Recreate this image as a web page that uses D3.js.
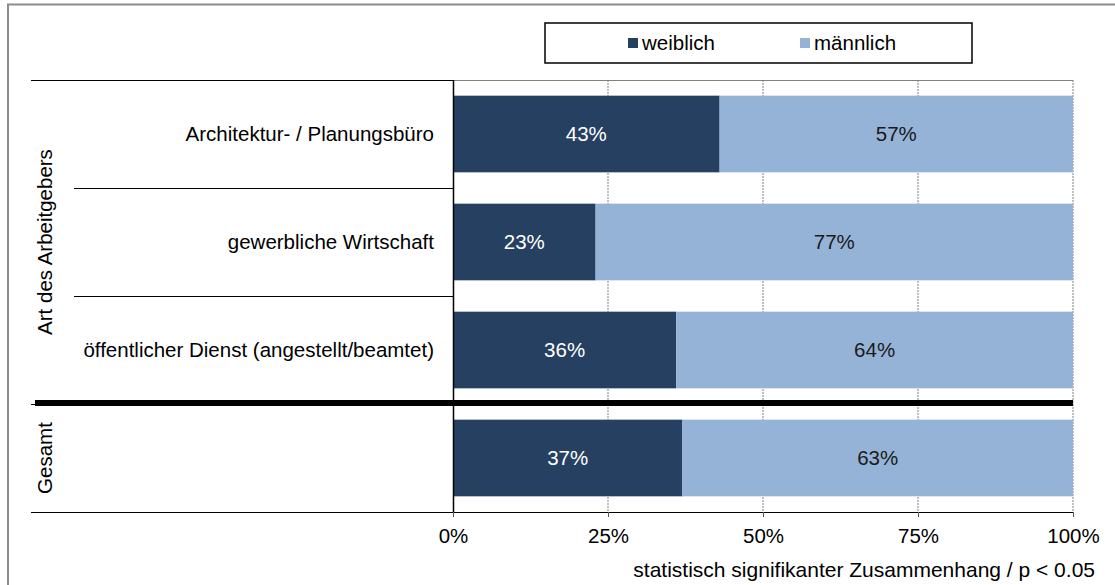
<!DOCTYPE html>
<html lang="de">
<head>
<meta charset="UTF-8">
<title>Art des Arbeitgebers</title>
<script src="https://d3js.org/d3.v7.min.js"></script>
<style>
  body { margin: 0; background: #fff; }
  svg { display: block; font-family: "Liberation Sans", Arial, sans-serif; }
</style>
</head>
<body>
<svg id="chart" width="1115" height="585"></svg>
<script>
// data
const categories = ['Architektur- / Planungsbüro', 'gewerbliche Wirtschaft', 'öffentlicher Dienst (angestellt/beamtet)', 'Gesamt'];
const weiblich = [43, 23, 36, 37];
const maennlich = [57, 77, 64, 63];
const seriesNames = ['weiblich', 'männlich'];
const tickValues = [0, 25, 50, 75, 100];

const colors = ['#264061', '#95b3d7'];
const labelColors = ['#ffffff', '#1a1a1a'];
const fs = 20.5;

const svg = d3.select('#chart');

// outer frame (right and bottom edges fall outside the picture)
svg.append('rect')
    .attr('x', 8).attr('y', 4.5)
    .attr('width', 1120).attr('height', 600)
    .attr('fill', 'none').attr('stroke', '#8c8c8c').attr('stroke-width', 2);

const plot = { left: 453, right: 1073, top: 80, bottom: 512 };

const x = d3.scaleLinear().domain([0, 100]).range([plot.left, plot.right]);
const y = d3.scaleBand().domain(categories).range([plot.top, plot.bottom]).paddingInner(0.29).paddingOuter(0.145);
const band = d3.scaleBand().domain(categories).range([plot.top, plot.bottom]);

// gridlines
svg.append('g')
    .selectAll('line')
    .data(tickValues.slice(1))
    .join('line')
    .attr('x1', d => x(d)).attr('x2', d => x(d))
    .attr('y1', plot.top).attr('y2', plot.bottom)
    .attr('stroke', '#808080').attr('stroke-width', 1)
    .attr('stroke-dasharray', '2,1');

// top border of plot area
svg.append('line')
    .attr('x1', plot.left).attr('x2', plot.right)
    .attr('y1', plot.top + 0.5).attr('y2', plot.top + 0.5)
    .attr('stroke', '#808080');

// stacked bars
const rows = categories.map((c, i) => ({ cat: c, vals: [weiblich[i], maennlich[i]] }));
const stacked = [];
rows.forEach(r => {
    let acc = 0;
    r.vals.forEach((v, s) => {
        stacked.push({ cat: r.cat, s: s, x0: acc, x1: acc + v, v: v });
        acc += v;
    });
});

svg.append('g')
    .selectAll('rect')
    .data(stacked)
    .join('rect')
    .attr('x', d => x(d.x0))
    .attr('y', d => y(d.cat))
    .attr('width', d => x(d.x1) - x(d.x0))
    .attr('height', y.bandwidth())
    .attr('fill', d => colors[d.s]);

svg.append('g')
    .selectAll('text')
    .data(stacked)
    .join('text')
    .attr('x', d => (x(d.x0) + x(d.x1)) / 2)
    .attr('y', d => y(d.cat) + y.bandwidth() / 2)
    .attr('dy', '0.35em')
    .attr('text-anchor', 'middle')
    .attr('font-size', fs)
    .attr('fill', d => labelColors[d.s])
    .text(d => d.v + '%');

// category separators (left side)
const bounds = categories.map(c => band(c)).concat([plot.bottom]);
svg.append('g')
    .selectAll('line')
    .data(bounds)
    .join('line')
    .attr('x1', (d, i) => (i === 1 || i === 2) ? 74 : 31)
    .attr('x2', plot.left)
    .attr('y1', d => d + 0.5).attr('y2', d => d + 0.5)
    .attr('stroke', '#000').attr('stroke-width', 1.2);

// thick separator before Gesamt
svg.append('line')
    .attr('x1', 35).attr('x2', plot.right)
    .attr('y1', band('Gesamt') - 1).attr('y2', band('Gesamt') - 1)
    .attr('stroke', '#000').attr('stroke-width', 6);

// category labels
svg.append('g')
    .selectAll('text')
    .data(categories.slice(0, 3))
    .join('text')
    .attr('x', 434)
    .attr('y', d => band(d) + band.bandwidth() / 2)
    .attr('dy', '0.35em')
    .attr('text-anchor', 'end')
    .attr('font-size', fs)
    .attr('fill', '#000')
    .text(d => d);

// group labels (rotated)
const groupLabel = (txt, yMid) => svg.append('text')
    .attr('transform', `translate(52,${yMid}) rotate(-90)`)
    .attr('text-anchor', 'middle')
    .attr('font-size', fs)
    .attr('fill', '#000')
    .text(txt);
groupLabel('Art des Arbeitgebers', (band(categories[0]) + band(categories[2]) + band.bandwidth()) / 2);
groupLabel('Gesamt', band('Gesamt') + band.bandwidth() / 2);

// y axis line
svg.append('line')
    .attr('x1', plot.left + 0.5).attr('x2', plot.left + 0.5)
    .attr('y1', plot.top).attr('y2', plot.bottom)
    .attr('stroke', '#000').attr('stroke-width', 1.5);

// x axis
const xAxis = d3.axisBottom(x)
    .tickValues(tickValues)
    .tickFormat(d => d + '%')
    .tickSize(5)
    .tickSizeOuter(0);

const gx = svg.append('g')
    .attr('transform', `translate(0,${plot.bottom})`)
    .call(xAxis);
gx.select('.domain').attr('stroke', '#000').attr('stroke-width', 1.2);
gx.selectAll('.tick line').attr('stroke', '#555');
gx.selectAll('.tick text')
    .attr('font-size', fs)
    .attr('font-family', '"Liberation Sans", Arial, sans-serif')
    .attr('fill', '#000')
    .attr('y', 16);

// axis note
svg.append('text')
    .attr('x', 1095).attr('y', 577)
    .attr('text-anchor', 'end')
    .attr('font-size', 21)
    .attr('fill', '#000')
    .text('statistisch signifikanter Zusammenhang / p < 0.05');

// legend
const legend = svg.append('g');
legend.append('rect')
    .attr('x', 545).attr('y', 23)
    .attr('width', 427).attr('height', 40)
    .attr('fill', '#fff').attr('stroke', '#000').attr('stroke-width', 1.5);
const legendX = [628, 800];
seriesNames.forEach((n, i) => {
    legend.append('rect')
        .attr('x', legendX[i]).attr('y', 38)
        .attr('width', 10).attr('height', 10)
        .attr('fill', colors[i]);
    legend.append('text')
        .attr('x', legendX[i] + 14).attr('y', 43)
        .attr('dy', '0.35em')
        .attr('font-size', fs)
        .attr('fill', '#000')
        .text(n);
});
</script>
</body>
</html>
